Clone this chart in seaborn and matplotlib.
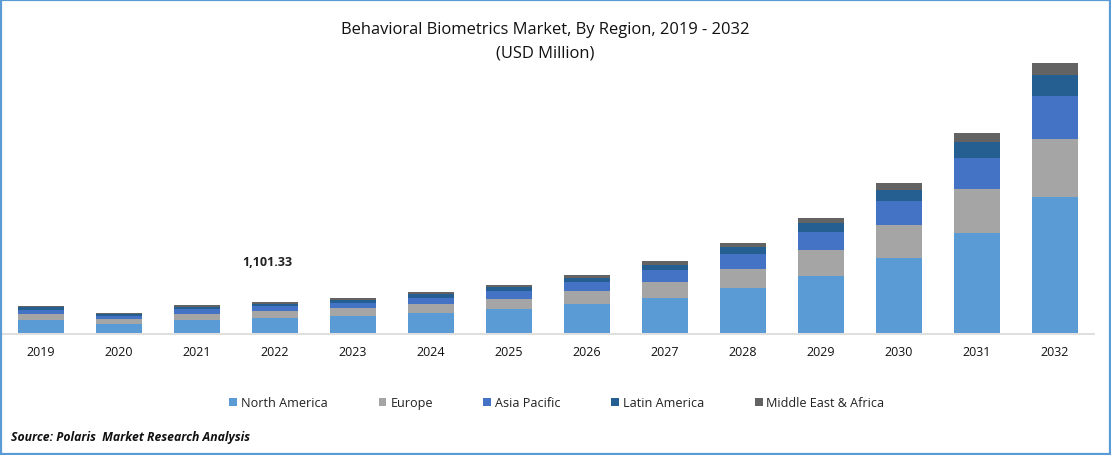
import numpy as np
import pandas as pd
import matplotlib
matplotlib.use('Agg')
import matplotlib.pyplot as plt
from matplotlib.patches import Rectangle
import seaborn as sns

years = ['2019', '2020', '2021', '2022', '2023', '2024', '2025', '2026', '2027', '2028', '2029', '2030', '2031', '2032']
regions = ['North America', 'Europe', 'Asia Pacific', 'Latin America', 'Middle East & Africa']

# USD million (2022 total is the labelled 1,101.33)
north_america = [460, 320, 460, 533, 604, 710, 852, 1030, 1243, 1598, 2024, 2663, 3550, 4828]
europe = [213, 178, 213, 249, 284, 320, 355, 462, 568, 675, 923, 1172, 1562, 2059]
asia_pacific = [142, 107, 178, 178, 178, 213, 284, 320, 426, 533, 639, 852, 1101, 1527]
latin_america = [96, 71, 71, 71, 107, 142, 142, 142, 178, 249, 320, 391, 568, 746]
middle_east_africa = [46, 36, 71, 71, 71, 71, 71, 107, 142, 142, 178, 249, 320, 426]

series = [north_america, europe, asia_pacific, latin_america, middle_east_africa]
colors = ['#5B9BD5', '#A5A5A5', '#4472C4', '#255E91', '#636363']

sns.set_theme(style='white')
plt.rcParams['font.family'] = ['Open Sans', 'DejaVu Sans']

W, H = 1111, 456
fig = plt.figure(figsize=(W / 100, H / 100), dpi=100, facecolor='white')
ax = fig.add_axes([2 / W, 1 - 334 / H, 1092 / W, 280 / H])

bottom = np.zeros(len(years))
for name, vals, col in zip(regions, series, colors):
    df = pd.DataFrame({'year': years, 'value': vals})
    sns.barplot(data=df, x='year', y='value', color=col, width=0.59, bottom=bottom,
                saturation=1, errorbar=None, label=name, linewidth=0, edgecolor='none', ax=ax)
    bottom += np.array(vals)

ax.set_xlim(-0.5, 13.5)
ax.set_ylim(0, 280 * 35.5)
ax.set_xlabel('')
ax.set_ylabel('')
ax.set_yticks([])
sns.despine(ax=ax, left=True)
ax.spines['bottom'].set_color('#D9D9D9')
ax.spines['bottom'].set_linewidth(1.2)
ax.spines['bottom'].set_position(('outward', 0.7))
ax.tick_params(axis='x', length=0, pad=7.8, labelsize=9, labelcolor='#111111')

ax.annotate('1,101.33', xy=(3, 1101.33), xytext=(-5.8, 29.5), textcoords='offset points', ha='center', va='center',
            fontsize=9, fontweight='bold', color='#222222')

leg = ax.legend(loc='center', bbox_to_anchor=(555 / 1092, -70 / 280), ncol=5, frameon=False, fontsize=9.1,
                handlelength=0.63, handleheight=0.63, handletextpad=0.3, columnspacing=4.0, labelcolor='#222222')

fig.text(545 / W, 1 - 30 / H, 'Behavioral Biometrics Market, By Region, 2019 - 2032', ha='center', va='center',
         fontsize=11.85, color='#111111')
fig.text(545 / W, 1 - 54 / H, '(USD Million)', ha='center', va='center', fontsize=11.85, color='#111111')
fig.text(11 / W, 1 - 438 / H, 'Source: Polaris  Market Research Analysis', ha='left', va='center', fontsize=8.8,
         fontweight='bold', fontstyle='italic', color='#111111')

# blue frame around the whole picture
fig.add_artist(Rectangle((1 / W, 1 / H), 1109 / W, 454 / H, transform=fig.transFigure, fill=False,
                         edgecolor='#5B9BD5', linewidth=1.6))

fig.savefig('out.png', dpi=100)
